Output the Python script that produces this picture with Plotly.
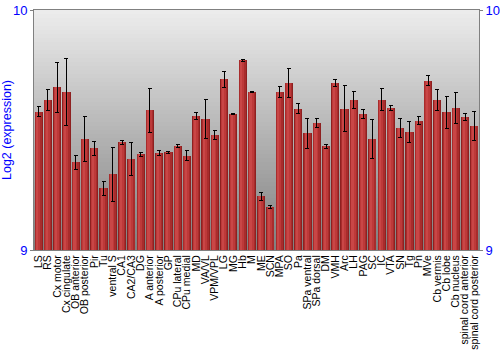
import plotly.graph_objects as go

categories = ["LS", "RS", "Cx motor", "Cx cingulate", "OB anterior", "OB posterior", "Pir", "Tu",
              "ventral S", "CA1", "CA2/CA3", "DG", "A anterior", "A posterior", "GP", "CPu lateral",
              "CPu medial", "MD", "VA/VL", "VPM/VPL", "LG", "MG", "Hb", "M", "ME", "SCN", "MPA", "SO",
              "Pa", "SPa ventral", "SPa dorsal", "DM", "VMH", "Arc", "LH", "PAG", "SC", "IC", "VTA", "SN",
              "Tg", "Pn", "MVe", "Cb vermis", "Cb lobe", "Cb nucleus", "spinal cord anterior",
              "spinal cord posterior"]

values = [9.576, 9.625, 9.679, 9.660, 9.365, 9.462, 9.424, 9.257,
          9.315, 9.449, 9.379, 9.399, 9.582, 9.404, 9.408, 9.433,
          9.393, 9.558, 9.546, 9.479, 9.711, 9.567, 9.790, 9.658, 9.224, 9.179, 9.658, 9.696,
          9.589, 9.487, 9.529, 9.432, 9.696, 9.589, 9.624, 9.568, 9.461, 9.626, 9.592, 9.510,
          9.492, 9.539, 9.706, 9.625, 9.573, 9.593, 9.554,
          9.518]

errors = [0.020, 0.042, 0.104, 0.140, 0.029, 0.094, 0.029, 0.029,
          0.113, 0.008, 0.069, 0.008, 0.092, 0.012, 0.004, 0.006,
          0.022, 0.014, 0.082, 0.019, 0.033, 0.002, 0.005, 0.003, 0.017, 0.007, 0.024, 0.062,
          0.022, 0.063, 0.019, 0.008, 0.014, 0.096, 0.035, 0.019, 0.081, 0.045, 0.010, 0.040,
          0.042, 0.016, 0.022, 0.043, 0.065, 0.064, 0.015,
          0.061]

y_min, y_max = 9, 10
y_ticks = [9, 10]

fig = go.Figure()

# cylinder-like bar shading via overlaid bars
layers = [
    (0.88, -0.44, "#8e2020"),
    (0.72, -0.38, "#a82c2c"),
    (0.50, -0.32, "#bd3939"),
    (0.24, -0.26, "#c94646"),
]
for w, off, col in layers:
    fig.add_trace(go.Bar(
        x=categories, y=[v - y_min for v in values], base=y_min,
        width=w, offset=off, marker=dict(color=col, line=dict(width=0)),
        hoverinfo="skip", showlegend=False))

fig.add_trace(go.Bar(
    x=categories, y=[v - y_min for v in values], base=y_min,
    width=0.88, offset=-0.44, marker=dict(color="rgba(0,0,0,0)", line=dict(width=0)),
    error_y=dict(type="data", array=errors, color="black", thickness=1, width=2),
    showlegend=False))

fig.add_trace(go.Scatter(x=[categories[0]], y=[9.5], yaxis="y2", mode="markers",
                         marker=dict(opacity=0), showlegend=False, hoverinfo="skip"))

# vertical gray gradient background
n = 60
shapes = []
top = (236, 236, 236)
bot = (128, 128, 128)
for i in range(n):
    t = i / (n - 1)
    c = tuple(int(round(top[k] + (bot[k] - top[k]) * t)) for k in range(3))
    shapes.append(dict(type="rect", xref="paper", yref="paper",
                       x0=0, x1=1, y0=1 - (i + 1) / n, y1=1 - i / n,
                       fillcolor="rgb(%d,%d,%d)" % c, line=dict(width=0), layer="below"))

fig.update_layout(
    width=500, height=350,
    margin=dict(l=34, r=21, t=10, b=100),
    paper_bgcolor="white", plot_bgcolor="white",
    barmode="overlay", bargap=0,
    shapes=shapes,
    font=dict(family="Liberation Sans, Arial, sans-serif"),
    xaxis=dict(tickangle=-90, tickmode="array", tickvals=categories, ticktext=categories,
               tickfont=dict(size=10.5, color="black"), showgrid=False, automargin=False,
               range=[-0.5, len(categories) - 0.5],
               showline=True, linecolor="#808080", mirror=True, ticks="", ticklen=0),
    yaxis=dict(range=[y_min, y_max], tickvals=y_ticks, ticktext=[str(t) for t in y_ticks],
               tickfont=dict(size=13, color="#0000ff"), showgrid=False, zeroline=False,
               automargin=False,
               showline=True, linecolor="#808080", ticks="outside", ticklen=3, tickcolor="#808080",
               title=dict(text="Log2 (expression)", font=dict(size=12.5, color="#0000ff"), standoff=2)),
    yaxis2=dict(range=[y_min, y_max], tickvals=y_ticks, ticktext=[str(t) for t in y_ticks],
                overlaying="y", side="right", tickfont=dict(size=13, color="#0000ff"),
                automargin=False,
                showgrid=False, zeroline=False, showline=True, linecolor="#808080",
                ticks="outside", ticklen=3, tickcolor="#808080"),
)

fig.write_html("out.html")
